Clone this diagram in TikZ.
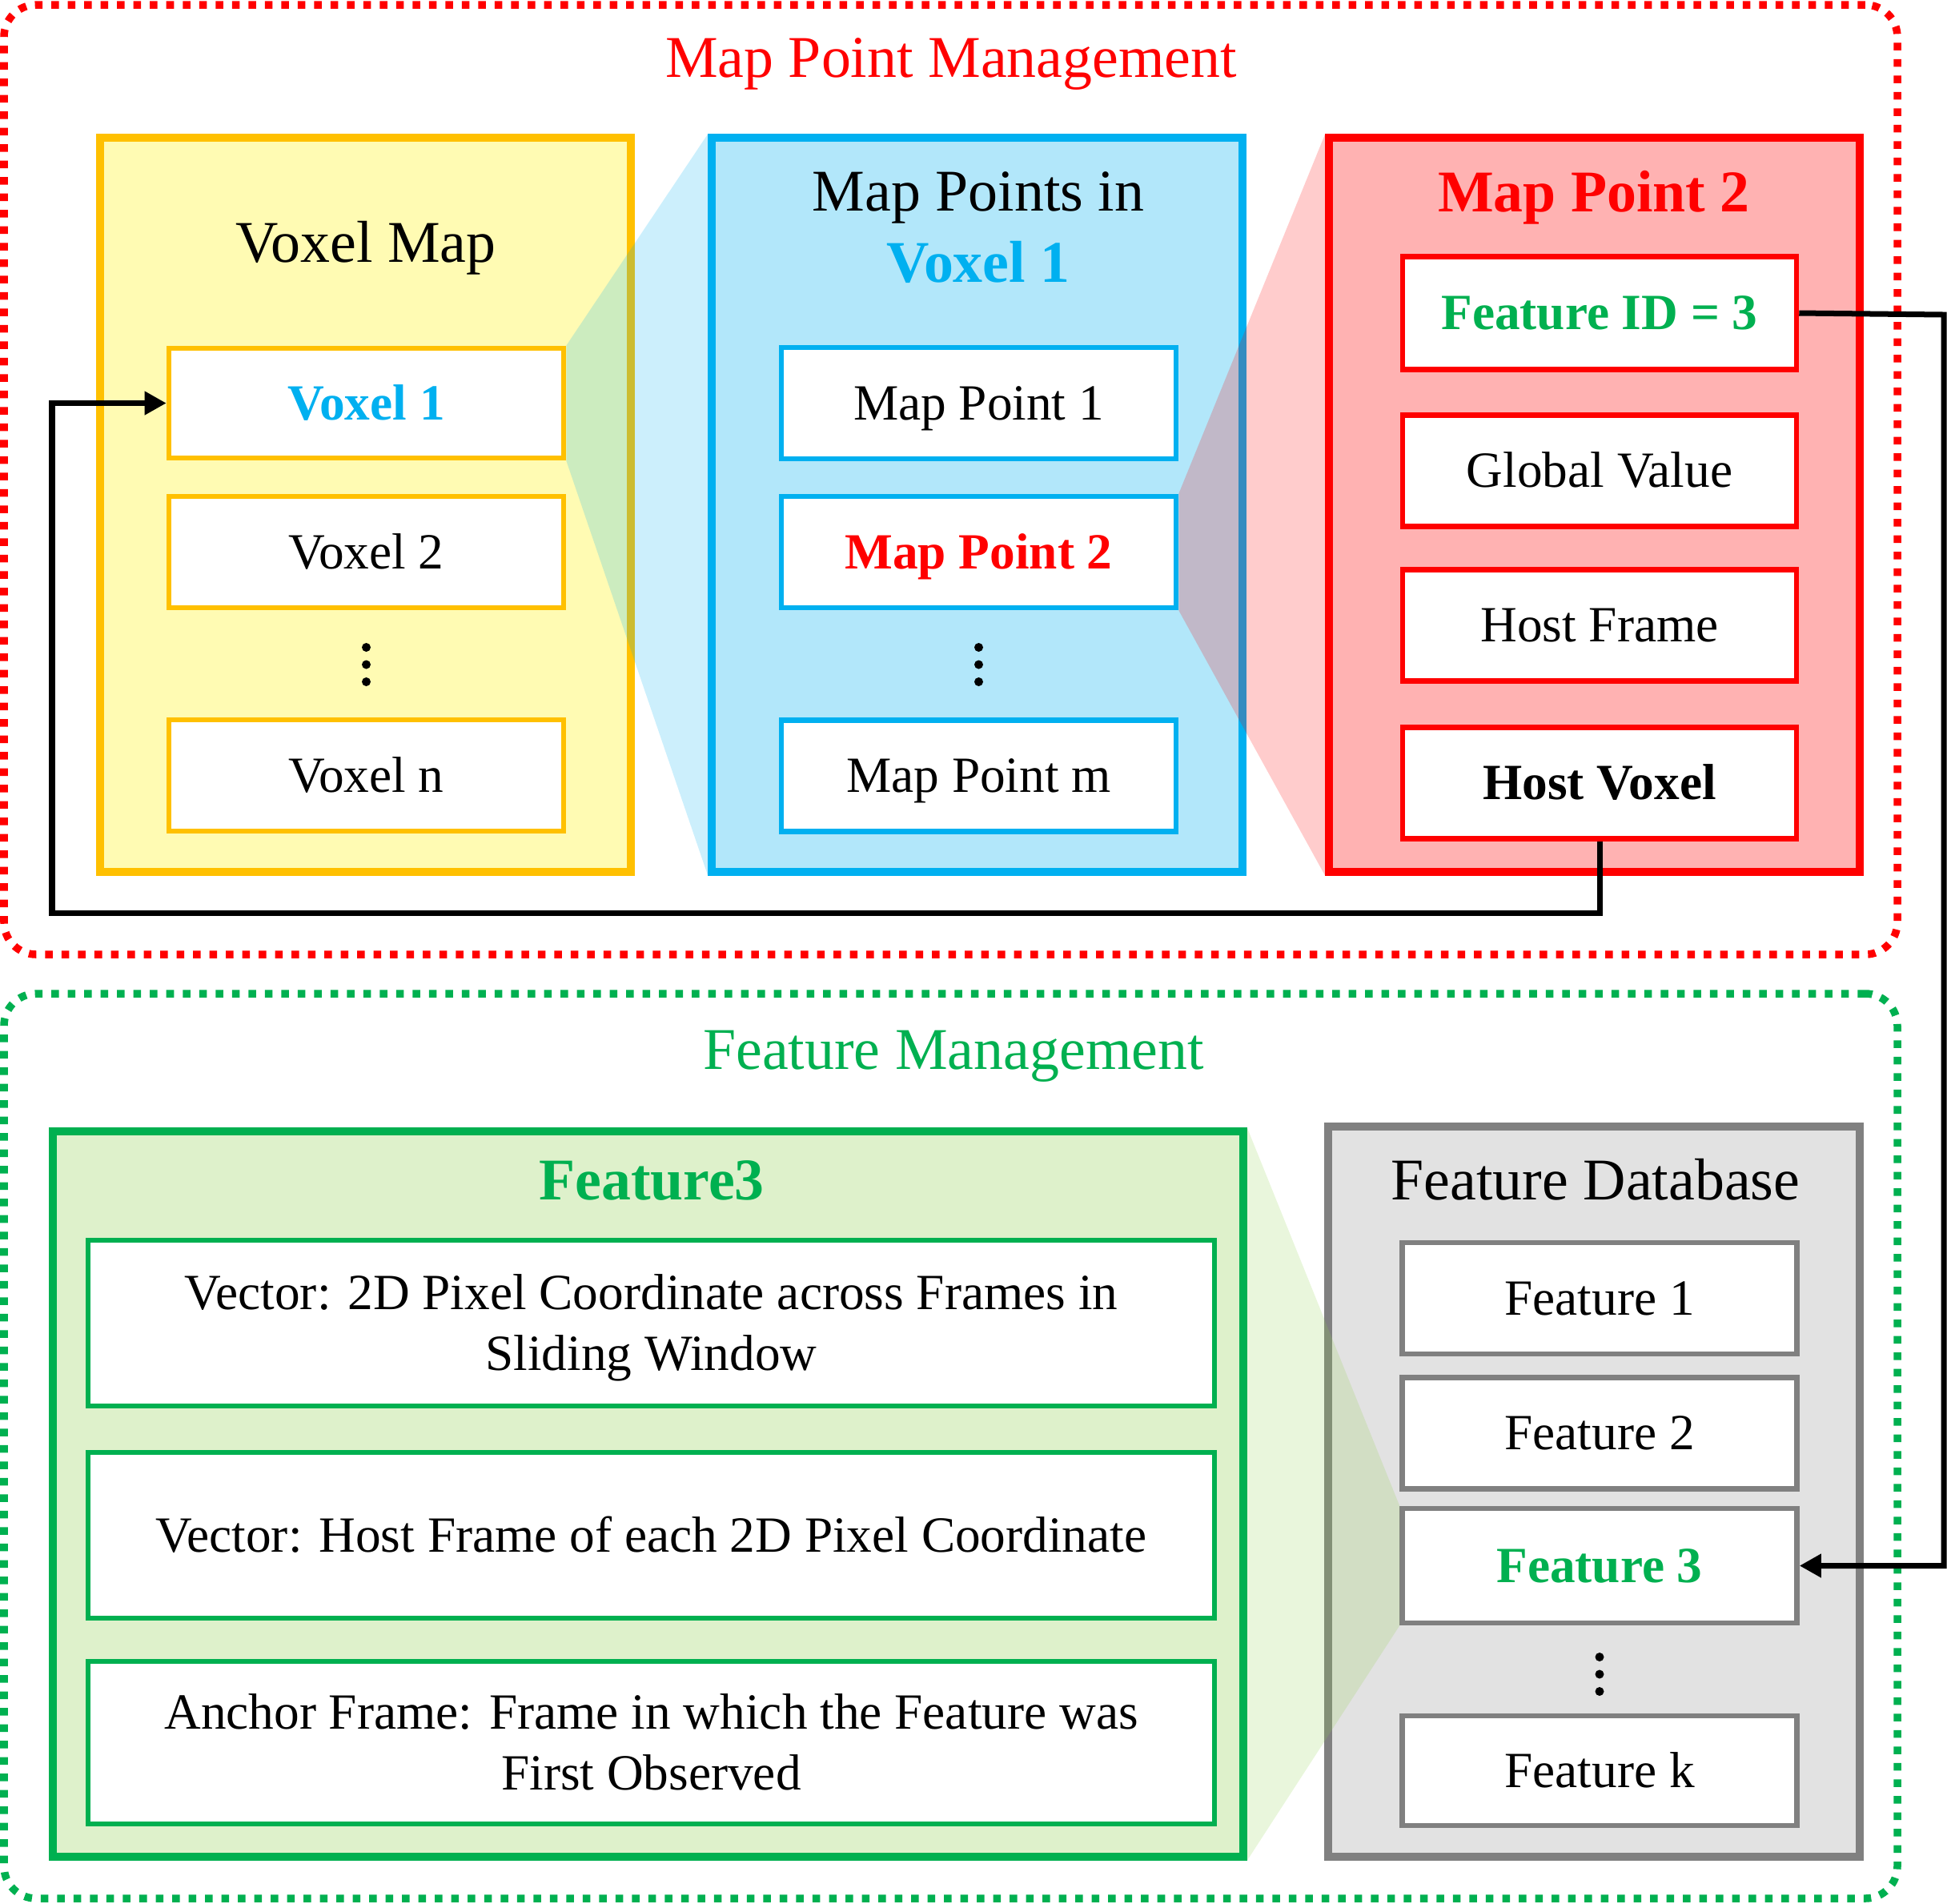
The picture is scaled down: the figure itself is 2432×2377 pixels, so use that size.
\documentclass[tikz,border=0pt]{standalone}
\usepackage{fontspec}
\setmainfont{Liberation Serif}
\usetikzlibrary{arrows.meta}

\definecolor{cyel}{HTML}{FFC000}
\definecolor{cblu}{HTML}{00B0F0}
\definecolor{cred}{HTML}{FF0000}
\definecolor{cgrn}{HTML}{00B050}
\definecolor{clgr}{HTML}{92D050}
\definecolor{cgry}{HTML}{808080}
\definecolor{cgfill}{HTML}{E2E2E2}

\newcommand\boxfont{\fontsize{18}{21.8}\selectfont}
\newcommand\headfont{\fontsize{21}{25}\selectfont}

\pgfdeclarelayer{ylayer}
\pgfdeclarelayer{fun1}
\pgfdeclarelayer{blayer}
\pgfdeclarelayer{fun2}
\pgfsetlayers{ylayer,fun1,blayer,fun2,main}

\tikzset{
  sz/.style 2 args={minimum width=#1*0.01cm, minimum height=#2*0.01cm},
  mainbox/.style={draw, line width=0.095cm, inner sep=0pt},
  inbox/.style={draw, fill=white, line width=0.065cm, inner sep=0pt,
    font=\boxfont, text height=11.9pt, text depth=0pt},
  twoline/.style={align=center, text height=33.7pt, text depth=0pt},
  head/.style={font=\headfont, inner sep=0pt, anchor=base},
  frame/.style={draw=#1, line width=0.095cm, rounded corners=0.4cm,
    dash pattern=on 0.095cm off 0.11cm, inner sep=0pt},
  conn/.style={draw=black, line width=0.07cm},
  tip/.style={-{Triangle[length=0.27cm, width=0.28cm]}},
  funnel/.style={fill=#1, fill opacity=0.2, draw=none},
  dot/.style={fill=black},
}

\begin{document}
\begin{tikzpicture}[x=0.01cm, y=-0.01cm]
\useasboundingbox (0,0) rectangle (2432,2377);

% dotted group frames
\node[frame=cred, sz={2365}{1186}] (mpmframe) at (1187.5,599) {};
\node[head, text=cred] (mpmtitle) at (1188,96) {Map Point Management};
\node[frame=cgrn, sz={2365}{1130}] (fmframe) at (1187.5,1806) {};
\node[head, text=cgrn] (fmtitle) at (1191,1335) {Feature Management};

% voxel map column
\begin{pgfonlayer}{ylayer}
\node[mainbox, draw=cyel, fill=yellow!30, sz={663}{917}] (vmap) at (456.5,630.5) {};
\node[head] (vmaptitle) at (457,327) {Voxel Map};
\node[inbox, draw=cyel, sz={493}{137}, text=cblu, font=\boxfont\bfseries] (v1) at (457.5,503.5) {Voxel 1};
\node[inbox, draw=cyel, sz={493}{139}] (v2) at (457.5,689.5) {Voxel 2};
\node[inbox, draw=cyel, sz={493}{139}] (vn) at (457.5,968.5) {Voxel n};
\foreach \dy in {-21.5,0,21.5}
  \fill[dot] (457.5,830+\dy) circle[radius=0.055cm];
\end{pgfonlayer}

% map points of voxel 1
\begin{pgfonlayer}{blayer}
\node[mainbox, draw=cblu, fill=cblu!30, sz={663}{917}] (mpts) at (1220.5,630.5) {};
\node[head] (mptstitle) at (1222,263) {Map Points in};
\node[head, text=cblu, font=\headfont\bfseries] (mptsvox) at (1222,352) {Voxel 1};
\node[inbox, draw=cblu, sz={493}{139}] (mp1) at (1222.5,503.5) {Map Point 1};
\node[inbox, draw=cblu, sz={493}{139}, text=cred, font=\boxfont\bfseries] (mp2) at (1222.5,689.5) {Map Point 2};
\node[inbox, draw=cblu, sz={493}{139}] (mpm) at (1222.5,969) {Map Point m};
\foreach \dy in {-21.5,0,21.5}
  \fill[dot] (1222.5,830+\dy) circle[radius=0.055cm];
\end{pgfonlayer}

% contents of map point 2
\node[mainbox, draw=cred, fill=cred!30, sz={663}{917}] (mp) at (1991.5,630.5) {};
\node[head, text=cred, font=\headfont\bfseries] (mptitle) at (1991,264) {Map Point 2};
\node[inbox, draw=cred, sz={492}{141}, text=cgrn, font=\boxfont\bfseries] (fid) at (1998,391) {Feature ID = 3};
\node[inbox, draw=cred, sz={492}{139}] (gv) at (1998,588) {Global Value};
\node[inbox, draw=cred, sz={492}{139}] (hf) at (1998,781) {Host Frame};
\node[inbox, draw=cred, sz={492}{139}, font=\boxfont\bfseries] (hv) at (1998,978) {Host Voxel};

% feature 3 record
\node[mainbox, draw=cgrn, fill=clgr!30, sz={1487}{906}] (feat) at (809.5,1866) {};
\node[head, text=cgrn, font=\headfont\bfseries] (feattitle) at (814,1498) {Feature3};
\node[inbox, draw=cgrn, sz={1407}{207}, twoline] (vec1) at (813.5,1652.5)
  {Vector: 2D Pixel Coordinate across Frames in\\Sliding Window};
\node[inbox, draw=cgrn, sz={1407}{207}] (vec2) at (813.5,1917.5)
  {Vector: Host Frame of each 2D Pixel Coordinate};
\node[inbox, draw=cgrn, sz={1407}{203}, twoline] (anc) at (813.5,2176.5)
  {Anchor Frame: Frame in which the Feature was\\First Observed};

% feature database
\node[mainbox, draw=cgry, fill=cgfill, sz={664}{912}] (fdb) at (1991,1863) {};
\node[head] (fdbtitle) at (1993,1498) {Feature Database};
\node[inbox, draw=cgry, sz={493}{139}] (f1) at (1998,1621.5) {Feature 1};
\node[inbox, draw=cgry, sz={493}{139}] (f2) at (1998,1790) {Feature 2};
\node[inbox, draw=cgry, sz={493}{143}, text=cgrn, font=\boxfont\bfseries] (f3) at (1998,1955.5) {Feature 3};
\node[inbox, draw=cgry, sz={493}{137}] (fk) at (1998,2211.5) {Feature k};
\foreach \dy in {-21.5,0,21.5}
  \fill[dot] (1998,2091+\dy) circle[radius=0.055cm];

% zoom-in funnels
\begin{pgfonlayer}{fun1}
\path[funnel=cblu] (v1.north east) -- (mpts.north west) -- (mpts.south west) -- (v1.south east) -- cycle;
\end{pgfonlayer}
\begin{pgfonlayer}{fun2}
\path[funnel=cred] (mp2.north east) -- (mp.north west) -- (mp.south west) -- (mp2.south east) -- cycle;
\end{pgfonlayer}
\path[funnel=clgr] (f3.north west) -- (feat.north east) -- (feat.south east) -- (f3.south west) -- cycle;

% links
\coordinate (loopcorner) at (65,1140);
\draw[conn, tip] (hv.south) |- (loopcorner) |- (v1.west);
\coordinate (idcorner) at (2428,393);
\draw[conn, tip] (fid.east) -- (idcorner) |- (f3.east);
\end{tikzpicture}
\end{document}
